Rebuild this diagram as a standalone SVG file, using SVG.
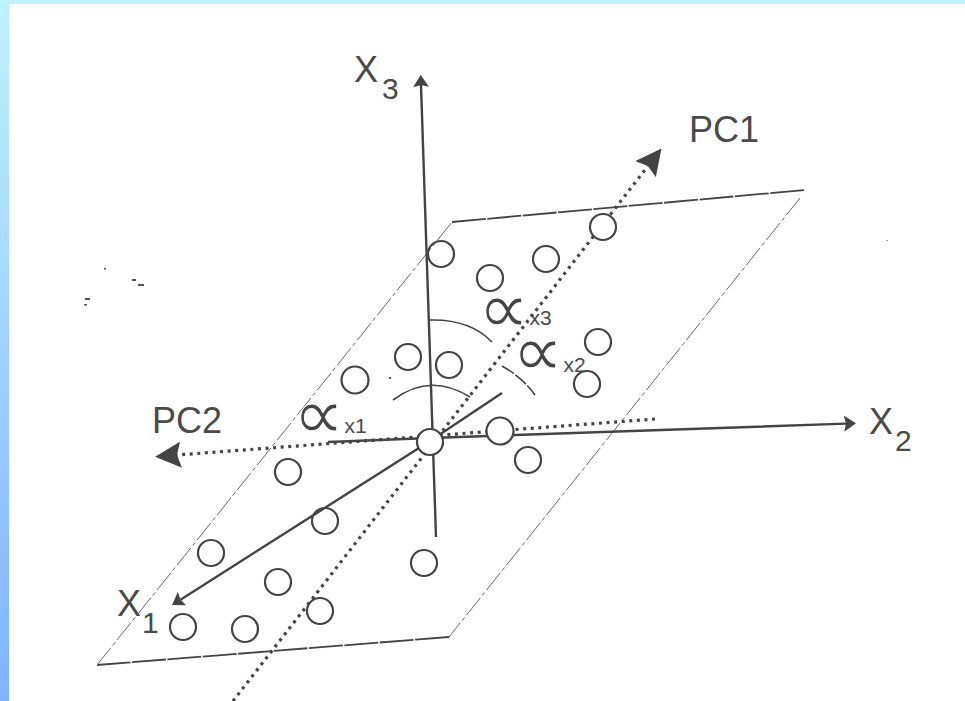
<svg xmlns="http://www.w3.org/2000/svg" width="965" height="701" viewBox="0 0 965 701">
<style>
.pt{fill:none;stroke:#444;stroke-width:2.2}
.ax{fill:none;stroke:#444;stroke-width:2.4}
.dot{fill:none;stroke:#444;stroke-width:3.2;stroke-dasharray:3 4.6}
.thin{fill:none;stroke:#666;stroke-width:1;stroke-dasharray:22 3 4 3}
.edge{fill:none;stroke:#444;stroke-width:1.8;stroke-dasharray:34 1.5}
.arc{fill:none;stroke:#444;stroke-width:1.6}
.lab{font-family:"Liberation Sans",Arial,sans-serif;fill:#4a4a4a}
.big{font-size:36px}
.sub{font-size:30px}
.ang{font-family:"Liberation Sans",Arial,sans-serif;font-size:21px;fill:#4a4a4a;stroke:none}
.alpha{font-family:"DejaVu Sans",sans-serif;font-size:72px;fill:#444;stroke:#fff;stroke-width:1}
.speck{fill:#555}
</style>
<defs>
<linearGradient id="bg" x1="0" y1="0" x2="0" y2="1"><stop offset="0" stop-color="#c0f1ff"/><stop offset="1" stop-color="#80b2ff"/></linearGradient>
<marker id="ah" markerUnits="userSpaceOnUse" markerWidth="12" markerHeight="16" viewBox="0 0 12 16" refX="2" refY="8" orient="auto"><path d="M0,0L12,8L0,16L2,8z" fill="#444"/></marker>
<marker id="pc" markerUnits="userSpaceOnUse" markerWidth="26" markerHeight="26" viewBox="0 0 26 26" refX="4" refY="13" orient="auto"><path d="M0,0L26,13L0,26L4,13z" fill="#444"/></marker>
</defs>
<rect width="965" height="701" fill="url(#bg)"/>
<rect x="9" y="4" width="956" height="697" fill="#fff"/>
<g id="specks">
<rect class="speck" x="104" y="268" width="2" height="1.5"/>
<rect class="speck" x="132" y="279" width="4" height="2"/>
<rect class="speck" x="138" y="284" width="6" height="2"/>
<rect class="speck" x="85" y="298" width="5" height="2"/>
<rect class="speck" x="84" y="304" width="3" height="1.5"/>
<rect class="speck" x="389" y="377" width="2" height="2"/>
<rect class="speck" x="886" y="240" width="2" height="1" opacity=".5"/>
</g>
<g id="connectors">
<path class="edge" d="M452,222L805,190"/>
<path class="thin" d="M800,198L449,637"/>
<path class="edge" d="M449,637L97,665"/>
<path class="thin" d="M97,665L452,222"/>
<path class="dot" d="M233,701L648,166" marker-end="url(#pc)"/>
<path class="dot" d="M655,419L177,455" marker-end="url(#pc)"/>
<path class="ax" d="M436,537L421,85" marker-end="url(#ah)"/>
<path class="ax" d="M328,442L430,438L846,423.6" marker-end="url(#ah)"/>
<path class="ax" d="M502,393L430,441L180.5,599.7" marker-end="url(#ah)"/>
<path class="arc" d="M430,320Q470,319 492,342"/>
<path class="arc" d="M502,366Q523,378 535,395" stroke-dasharray="14 2"/>
<path class="arc" d="M393,400Q430,372 470,397"/>
</g>
<g id="n1"><circle class="pt" cx="441" cy="254" r="13"/></g>
<g id="n2"><circle class="pt" cx="490" cy="278" r="13"/></g>
<g id="n3"><circle class="pt" cx="546" cy="259" r="13"/></g>
<g id="n4"><circle class="pt" cx="603" cy="227" r="13" style="fill:#fff"/></g>
<g id="n5"><circle class="pt" cx="598" cy="342" r="13"/></g>
<g id="n6"><circle class="pt" cx="587" cy="384" r="13"/></g>
<g id="n7"><circle class="pt" cx="449" cy="365" r="13"/></g>
<g id="n8"><circle class="pt" cx="408" cy="357" r="13"/></g>
<g id="n9"><circle class="pt" cx="355" cy="380" r="13.5"/></g>
<g id="origin"><circle class="pt" cx="430" cy="442" r="13" style="fill:#fff"/></g>
<g id="n10"><circle class="pt" cx="500" cy="431" r="13.5" style="fill:#fff"/></g>
<g id="n11"><circle class="pt" cx="528" cy="460" r="13"/></g>
<g id="n12"><circle class="pt" cx="288" cy="472" r="13"/></g>
<g id="n13"><circle class="pt" cx="325" cy="521" r="13"/></g>
<g id="n14"><circle class="pt" cx="211" cy="553" r="13"/></g>
<g id="n15"><circle class="pt" cx="278" cy="582" r="13"/></g>
<g id="n16"><circle class="pt" cx="320" cy="611" r="13" style="fill:#fff"/></g>
<g id="n17"><circle class="pt" cx="424" cy="563" r="13"/></g>
<g id="n18"><circle class="pt" cx="183" cy="627" r="13"/></g>
<g id="n19"><circle class="pt" cx="245" cy="629" r="13"/></g>
<g id="labels">
<text class="lab big" x="354" y="82">X</text><text class="lab sub" x="382" y="99">3</text>
<text class="lab big" x="869" y="434">X</text><text class="lab sub" x="895" y="451">2</text>
<text class="lab big" x="117" y="616">X</text><text class="lab sub" x="142" y="633">1</text>
<text class="lab big" x="689" y="142">PC1</text>
<text class="lab big" x="152" y="433">PC2</text>
<text class="alpha" x="478" y="333">∝<tspan class="ang" dy="-8">x3</tspan></text>
<text class="alpha" x="512" y="376">∝<tspan class="ang" dy="-4">x2</tspan></text>
<text class="alpha" x="293" y="439">∝<tspan class="ang" dy="-6">x1</tspan></text>
</g>
</svg>
